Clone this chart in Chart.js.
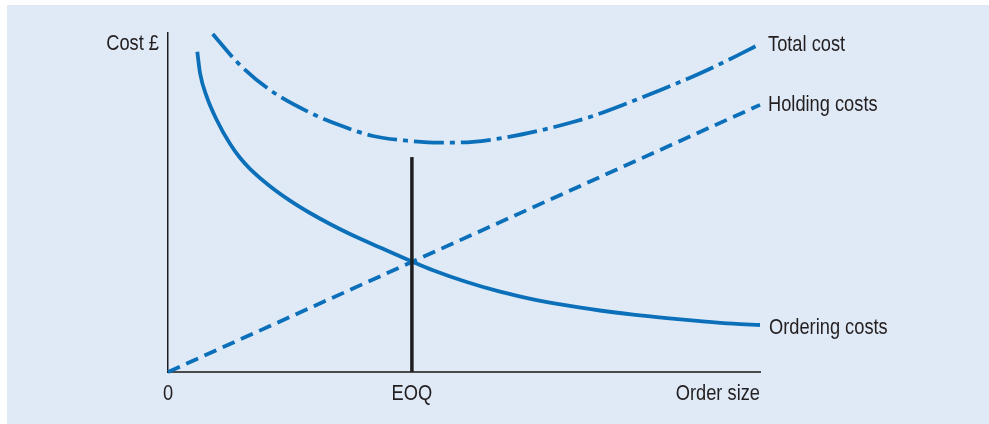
<!DOCTYPE html>
<html>
<head>
<meta charset="utf-8">
<script src="https://cdn.jsdelivr.net/npm/chart.js@4/dist/chart.umd.min.js"></script>
<style>
  html, body { margin: 0; padding: 0; background: #ffffff; }
  #wrap { position: relative; width: 989px; height: 424px; }
  canvas { display: block; }
</style>
</head>
<body>
<div id="wrap"><canvas id="c" width="989" height="424"></canvas></div>
<script>
// ---- data (arbitrary units, order size 0..100, cost 0..100) ----
const orderingX = [4.95, 5.41, 6.54, 8.23, 10.47, 12.16, 13.85, 17.23, 20.61, 23.99, 27.36, 30.74, 35.81, 41.39, 44.76, 50.46, 56.08, 61.66, 67.35, 72.97, 78.55, 84.24, 89.86, 95.44, 100];
const orderingY = [94.48, 88.20, 81.21, 74.34, 67.32, 63.19, 59.94, 54.81, 50.56, 46.90, 43.66, 40.71, 36.73, 32.45, 30.03, 26.55, 23.69, 21.45, 19.62, 18.14, 16.93, 15.90, 15.01, 14.25, 13.86];

const holdingX = [0, 100];
const holdingY = [0, 78.8];

const totalX = [7.55, 11.88, 17.23, 23.99, 29.05, 34.63, 40.32, 45.95, 51.52, 57.21, 62.84, 68.41, 71.79, 77.48, 83.11, 88.68, 94.37, 100];
const totalY = [99.71, 91.06, 83.19, 76.49, 72.77, 69.62, 68.23, 67.64, 67.91, 69.23, 71.24, 73.75, 75.52, 79.20, 83.13, 87.17, 91.80, 96.76];

const eoqX = [41.2, 41.2];
const eoqY = [0, 63.4];

const seriesLabels = ["Total cost", "Holding costs", "Ordering costs"];
const xTickValues = [0, 41.2, 100];
const xTickLabels = ["0", "EOQ", "Order size"];
const yAxisLabel = "Cost £";

// ---- helpers ----
const pts = (xs, ys) => xs.map((x, i) => ({ x: x, y: ys[i] }));
const BLUE = '#0b70b9';
const TEXT = '#231f20';
const FONT = '22px "Liberation Sans", Arial, sans-serif';
const NARROW = 0.83;

function drawText(ctx, str, x, y, align) {
  ctx.save();
  ctx.translate(x, y);
  ctx.scale(NARROW, 1);
  ctx.textAlign = align;
  ctx.fillText(str, 0, 0);
  ctx.restore();
}

const bgPlugin = {
  id: 'bg',
  beforeDraw(chart) {
    const ctx = chart.ctx;
    ctx.save();
    ctx.fillStyle = '#ffffff';
    ctx.fillRect(0, 0, chart.width, chart.height);
    ctx.fillStyle = '#e0eaf6';
    ctx.fillRect(7, 5, chart.width - 7, chart.height - 5);
    ctx.restore();
  }
};

const textPlugin = {
  id: 'texts',
  afterDraw(chart) {
    const ctx = chart.ctx;
    const xs = chart.scales.x, ys = chart.scales.y;
    ctx.save();
    ctx.font = FONT;
    ctx.fillStyle = TEXT;
    ctx.textBaseline = 'alphabetic';
    // y-axis label
    drawText(ctx, yAxisLabel, xs.left - 9, ys.top + 17, 'right');
    // x tick labels
    const tickBase = ys.bottom + 28;
    drawText(ctx, xTickLabels[0], xs.getPixelForValue(xTickValues[0]), tickBase, 'center');
    drawText(ctx, xTickLabels[1], xs.getPixelForValue(xTickValues[1]), tickBase, 'center');
    drawText(ctx, xTickLabels[2], xs.getPixelForValue(xTickValues[2]), tickBase, 'right');
    // series end labels
    const lx = xs.right + 8;
    drawText(ctx, seriesLabels[0], lx, ys.getPixelForValue(totalY[totalY.length - 1]) + 7, 'left');
    drawText(ctx, seriesLabels[1], lx, ys.getPixelForValue(holdingY[holdingY.length - 1]) + 6, 'left');
    drawText(ctx, seriesLabels[2], lx + 1, ys.getPixelForValue(orderingY[orderingY.length - 1]) + 9, 'left');
    ctx.restore();
  }
};

new Chart(document.getElementById('c'), {
  type: 'scatter',
  data: {
    datasets: [
      {
        label: 'EOQ',
        data: pts(eoqX, eoqY),
        showLine: true,
        borderColor: '#1e1e1e',
        borderWidth: 3.5,
        pointRadius: 0,
        clip: false,
        order: 0
      },
      {
        label: seriesLabels[2],
        data: pts(orderingX, orderingY),
        showLine: true,
        borderColor: BLUE,
        borderWidth: 3.8,
        pointRadius: 0,
        cubicInterpolationMode: 'monotone',
        clip: false,
        order: 1
      },
      {
        label: seriesLabels[1],
        data: pts(holdingX, holdingY),
        showLine: true,
        borderColor: BLUE,
        borderWidth: 3.8,
        borderDash: [13, 7],
        pointRadius: 0,
        clip: false,
        order: 2
      },
      {
        label: seriesLabels[0],
        data: pts(totalX, totalY),
        showLine: true,
        borderColor: BLUE,
        borderWidth: 3.8,
        borderDash: [30, 6, 5, 6],
        pointRadius: 0,
        cubicInterpolationMode: 'monotone',
        clip: false,
        order: 3
      }
    ]
  },
  options: {
    responsive: false,
    animation: false,
    devicePixelRatio: 1,
    layout: { padding: { left: 168, right: 229, top: 33, bottom: 52 } },
    plugins: { legend: { display: false }, tooltip: { enabled: false } },
    scales: {
      x: {
        type: 'linear', min: 0, max: 100,
        ticks: { display: false },
        grid: { display: false, drawTicks: false },
        border: { display: true, color: '#4a4a4a', width: 2 }
      },
      y: {
        type: 'linear', min: 0, max: 100,
        ticks: { display: false },
        grid: { display: false, drawTicks: false },
        border: { display: true, color: '#1e1e1e', width: 1.5 }
      }
    }
  },
  plugins: [bgPlugin, textPlugin]
});
</script>
</body>
</html>
